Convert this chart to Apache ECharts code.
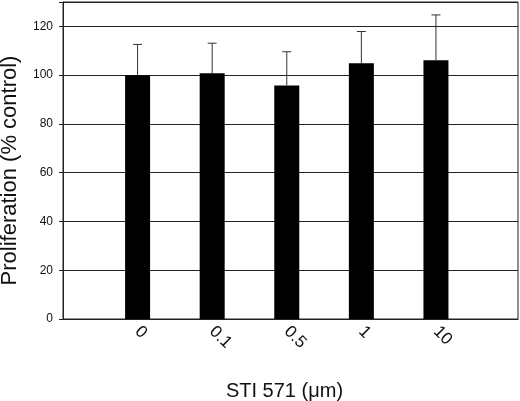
<!DOCTYPE html>
<html>
<head>
<meta charset="utf-8">
<script src="https://cdn.jsdelivr.net/npm/echarts@6/dist/echarts.min.js"></script>
<style>
  html, body { margin: 0; padding: 0; background: #fff; }
  #container { width: 520px; height: 401px; }
</style>
</head>
<body>
<div id="container"></div>
<script>
// 剂量分类和增殖数据
var doses = ['0', '0.1', '0.5', '1', '10'];
var means = [100, 100.8, 95.8, 104.9, 106.1];
var errUp = [12.6, 12.3, 13.8, 13.0, 18.6];
var yTicks = [0, 20, 40, 60, 80, 100, 120];

var myChart = echarts.init(document.getElementById('container'));

// 柱子放在 1..5 的位置上
var barData = means.map(function (v, i) { return [i + 1, v]; });
var errData = means.map(function (v, i) { return [i + 1, v, v + errUp[i]]; });

var font = 'Liberation Sans, Arial, sans-serif';

option = {
    backgroundColor: '#fff',
    animation: false,
    grid: {
        left: 63, right: 2, top: 2, bottom: 82,
        outerBoundsMode: 'none',
        containLabel: false,
        show: true, borderColor: '#222', borderWidth: 1
    },
    xAxis: {
        type: 'value',
        min: 0, max: 6.1, interval: 1,
        name: 'STI 571 (μm)',
        nameLocation: 'middle',
        nameGap: 62,
        nameTextStyle: { fontFamily: font, fontSize: 20, color: '#111', padding: [0, 12, 0, 0] },
        axisLine: { lineStyle: { color: '#222', width: 1 } },
        axisTick: { show: false },
        splitLine: { show: false },
        axisLabel: {
            rotate: -45,
            margin: 10,
            fontFamily: font, fontSize: 17, color: '#111',
            showMinLabel: false, showMaxLabel: false,
            formatter: function (v) {
                var i = Math.round(v) - 1;
                return (Math.abs(v - Math.round(v)) < 1e-6 && doses[i] !== undefined) ? doses[i] : '';
            }
        }
    },
    yAxis: {
        type: 'value',
        min: 0, max: 130, interval: 20,
        name: 'Proliferation (% control)',
        nameLocation: 'middle',
        nameGap: 42,
        nameTextStyle: { fontFamily: font, fontSize: 22, color: '#111', padding: [0, 20, 0, 0] },
        axisLine: { show: true, lineStyle: { color: '#222', width: 1 } },
        axisTick: { show: true, length: 4, lineStyle: { color: '#222' } },
        splitLine: { show: true, lineStyle: { color: '#222', width: 1 } },
        axisLabel: {
            margin: 10,
            fontFamily: font, fontSize: 12, color: '#111',
            formatter: function (v) { return yTicks.indexOf(v) >= 0 ? String(v) : ''; }
        }
    },
    series: [
        {
            type: 'bar',
            data: barData,
            barWidth: 25,
            itemStyle: { color: '#000' },
            z: 3
        },
        {
            type: 'custom',
            data: errData,
            z: 4,
            renderItem: function (params, api) {
                var x = api.value(0);
                var low = api.coord([x, api.value(1)]);
                var high = api.coord([x, api.value(2)]);
                var cap = 4.5;
                return {
                    type: 'group',
                    children: [
                        { type: 'line', shape: { x1: low[0], y1: low[1], x2: high[0], y2: high[1] },
                          style: { stroke: '#333', lineWidth: 1 } },
                        { type: 'line', shape: { x1: high[0] - cap, y1: high[1], x2: high[0] + cap, y2: high[1] },
                          style: { stroke: '#333', lineWidth: 1 } }
                    ]
                };
            }
        }
    ]
};
myChart.setOption(option);
</script>
</body>
</html>
